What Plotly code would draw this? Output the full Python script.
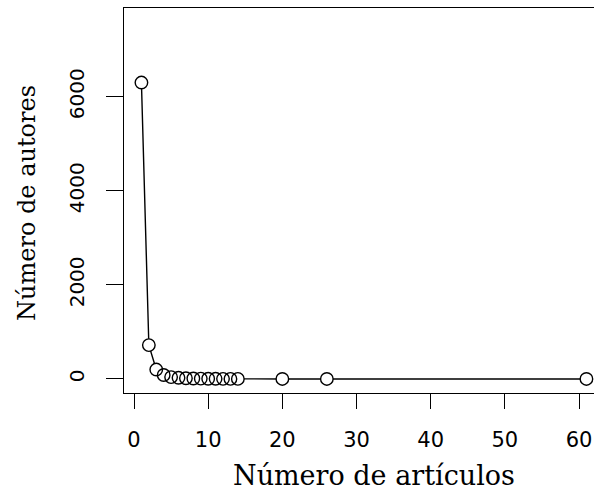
import plotly.graph_objects as go

# Number of articles per author vs. number of authors with that count
n_articulos = [1, 2, 3, 4, 5, 6, 7, 8, 9, 10, 11, 12, 13, 14, 20, 26, 61]
n_autores = [6300, 720, 200, 85, 40, 25, 15, 10, 8, 5, 4, 3, 2, 2, 1, 1, 1]

x_ticks = [0, 10, 20, 30, 40, 50, 60]
y_ticks = [0, 2000, 4000, 6000]

W, H = 594, 491
L, R, T, B = 124, 0, 8, 98

fig = go.Figure()
# Connecting line, broken around each point by white discs
fig.add_trace(go.Scatter(
    x=n_articulos, y=n_autores,
    mode="lines+markers",
    line=dict(color="black", width=1.4),
    marker=dict(symbol="circle", size=12.5, color="white",
                line=dict(width=0)),
    cliponaxis=False,
    hoverinfo="skip",
))
# Open circles drawn on top so overlapping outlines stay visible
fig.add_trace(go.Scatter(
    x=n_articulos, y=n_autores,
    mode="markers",
    marker=dict(symbol="circle-open", size=12.5, color="black",
                line=dict(color="black", width=1.4)),
    cliponaxis=False,
    hoverinfo="skip",
))

x_tick_font = dict(family="DejaVu Sans", size=21, color="black")
y_tick_font = dict(family="DejaVu Sans", size=20, color="black")

fig.update_layout(
    width=W, height=H,
    margin=dict(l=L, r=R, t=T, b=B, pad=0),
    paper_bgcolor="white", plot_bgcolor="white",
    showlegend=False,
    xaxis=dict(
        range=[-1.35, 62.02], tickvals=x_ticks, ticktext=[str(v) for v in x_ticks],
        showgrid=False, zeroline=False,
        showline=True, linecolor="black", linewidth=1.4, mirror=True,
        ticks="outside", ticklen=15, tickwidth=1.4, tickcolor="black",
        tickfont=x_tick_font, ticklabelstandoff=13,
    ),
    yaxis=dict(
        range=[-298, 7885], tickvals=y_ticks, ticktext=[str(v) for v in y_ticks],
        showgrid=False, zeroline=False,
        showline=True, linecolor="black", linewidth=1.4, mirror=False,
        ticks="outside", ticklen=17, tickwidth=1.4, tickcolor="black",
        tickfont=y_tick_font, tickangle=-90, ticklabelstandoff=14,
    ),
    annotations=[
        dict(text="Número de artículos", xref="paper", yref="paper",
             x=(374 - L) / (W - L - R), y=-(475 - (H - B)) / (H - T - B),
             xanchor="center", yanchor="middle", showarrow=False,
             font=dict(family="DejaVu Serif", size=27, color="black")),
        dict(text="Número de autores", xref="paper", yref="paper",
             x=-(L - 27) / (W - L - R), y=((H - B) - 203) / (H - T - B),
             xanchor="center", yanchor="middle", showarrow=False,
             textangle=-90,
             font=dict(family="DejaVu Serif", size=24, color="black")),
    ],
)

fig.write_html("out.html")
